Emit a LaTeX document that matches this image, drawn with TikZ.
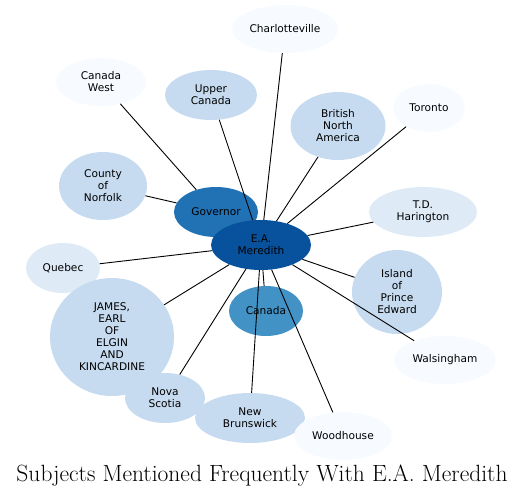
\documentclass[tikz,border=0pt]{standalone}
\usepackage{fontspec}
\setsansfont{DejaVu Sans}
\usepackage{xcolor}
\usetikzlibrary{positioning,shapes.geometric,backgrounds}

\definecolor{blueA}{HTML}{F7FBFF}
\definecolor{blueB}{HTML}{DEEBF7}
\definecolor{blueC}{HTML}{C6DBEF}
\definecolor{blueD}{HTML}{4292C6}
\definecolor{blueE}{HTML}{2171B5}
\definecolor{blueF}{HTML}{08519C}

\begin{document}
\begin{tikzpicture}[x=1pt, y=-1pt,
    subj/.style={ellipse, inner sep=0pt, align=center,
      font=\sffamily\fontsize{10.6}{12}\selectfont},
    link/.style={line width=0.9pt}]
                \useasboundingbox (0,0) rectangle (524,496);
                % outer ring of subjects
                \node[subj, fill=blueA, minimum width=106, minimum height=48] (cville) at (285,29) {Charlotteville};
                \node[subj, fill=blueA, minimum width=90, minimum height=48] (cwest) at (101,82) {Canada\\West};
                \node[subj, fill=blueC, minimum width=92, minimum height=50] (upper) at (211,95) {Upper\\Canada};
                \node[subj, fill=blueC, minimum width=95, minimum height=68] (bna) at (338,126) {British\\North\\America};
                \node[subj, fill=blueA, minimum width=72, minimum height=48] (toronto) at (429,108) {Toronto};
                \node[subj, fill=blueC, minimum width=88, minimum height=68] (norfolk) at (103,186) {County\\of\\Norfolk};
                \node[subj, fill=blueB, minimum width=108, minimum height=50] (harington) at (423,212) {T.D.\\Harington};
                \node[subj, fill=blueB, minimum width=74, minimum height=50] (quebec) at (63,268) {Quebec};
                \node[subj, fill=blueC, minimum width=124, minimum height=118] (elgin) at (112,337) {JAMES,\\EARL\\OF\\ELGIN\\AND\\KINCARDINE};
                \node[subj, fill=blueC, minimum width=90, minimum height=84] (pei) at (397,292) {Island\\of\\Prince\\Edward};
                \node[subj, fill=blueA, minimum width=102, minimum height=48] (walsingham) at (445,360) {Walsingham};
                \node[subj, fill=blueC, minimum width=80, minimum height=50] (nova) at (165,398) {Nova\\Scotia};
                \node[subj, fill=blueC, minimum width=110, minimum height=50] (brunswick) at (250,418) {New\\Brunswick};
                \node[subj, fill=blueA, minimum width=98, minimum height=48] (woodhouse) at (343,436) {Woodhouse};
                % inner subjects
                \node[subj, fill=blueD, minimum width=74, minimum height=50] (canada) at (266,311) {Canada};
                \node[subj, fill=blueE, minimum width=84, minimum height=50] (governor) at (216,212) {Governor};
                \node[subj, fill=blueF, minimum width=100, minimum height=50] (meredith) at (261,245) {E.A.\\Meredith};
                % links
                \begin{scope}[on background layer]
                    \draw[link] (governor.center) -- (meredith.center);
                \end{scope}
                \draw[link] (cwest) -- (governor);
                \draw[link] (norfolk) -- (governor);
                \foreach \s in {cville,upper,bna,toronto,harington,quebec,elgin,pei,walsingham,nova,brunswick,woodhouse,canada}
                    \draw[link] (\s) -- (meredith);
                \node[font=\fontsize{23.5}{28}\selectfont] (title) at (262,476) {Subjects Mentioned Frequently With E.A. Meredith};
            \end{tikzpicture}
\end{document}
